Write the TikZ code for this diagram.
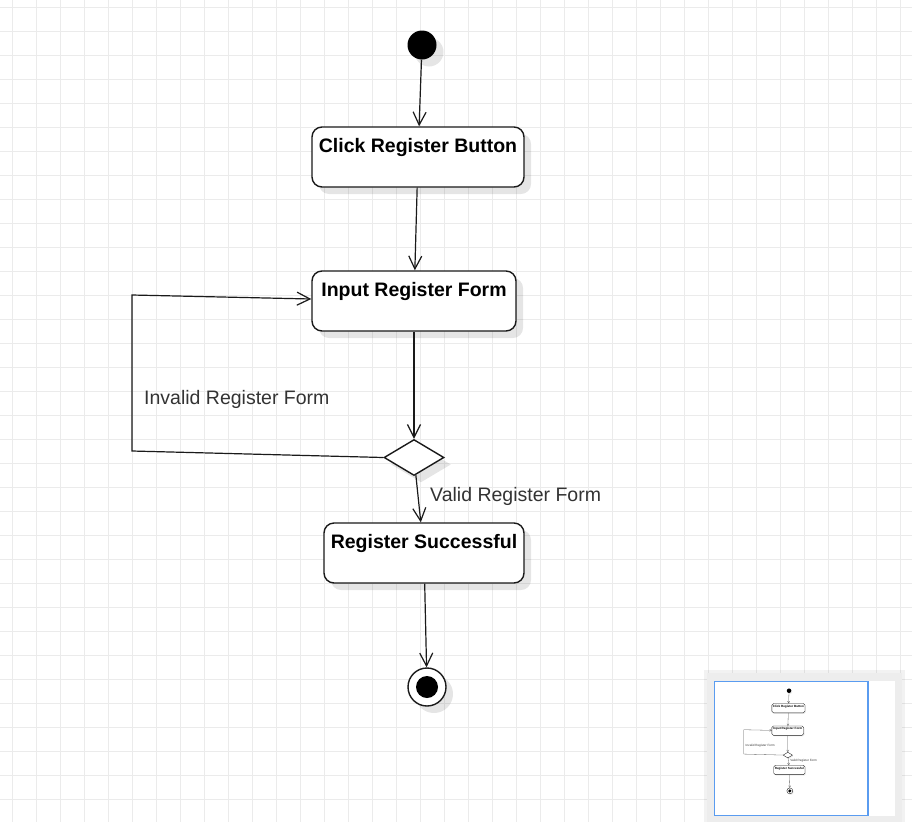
\documentclass[tikz,border=0pt]{standalone}
\usepackage{fontspec}
\setmainfont{Liberation Sans}
\usetikzlibrary{arrows.meta,shapes.geometric,shadows,calc}
\definecolor{gridc}{HTML}{EBEBEB}
\definecolor{linec}{HTML}{1A1A1A}
\definecolor{labelc}{HTML}{333333}
\definecolor{panelc}{HTML}{EDEDED}
\definecolor{bluec}{HTML}{5A9CF0}
\tikzset{
  shd/.style={drop shadow={shadow xshift=7pt, shadow yshift=-7pt, fill=black, opacity=0.1}},
  act/.style={shd, draw=linec, line width=1.4pt, rounded corners=10pt, fill=white,
    minimum height=60pt, text height=25pt, text depth=35pt, inner ysep=0pt, inner xsep=0pt,
    font=\bfseries\fontsize{19.5}{22}\selectfont},
  startnode/.style={shd, circle, fill=black, minimum size=29pt, inner sep=0pt},
  endnode/.style={shd, circle, draw=linec, line width=1.4pt, fill=white, minimum size=38pt, inner sep=0pt},
  endin/.style={circle, fill=black, minimum size=22pt, inner sep=0pt},
  decision/.style={shd, diamond, aspect=1.667, draw=linec, line width=1.4pt, fill=white,
    minimum width=60pt, minimum height=36pt, inner sep=0pt},
  flow/.style={draw=linec, line width=1.2pt, -{Straight Barb[length=13pt,width=13pt]}},
  guard/.style={anchor=base west, inner sep=0pt, text=labelc, font=\fontsize{19.5}{22}\selectfont},
}
\newcommand\regdiag[1]{%
  \node[startnode] (#1s) at (422,45) {};
  \node[act, minimum width=212pt] (#1a) at (418,157) {Click Register Button};
  \node[act, minimum width=204pt] (#1b) at (414,301) {Input Register Form};
  \node[decision] (#1d) at (414,457.5) {};
  \node[act, minimum width=200pt] (#1c) at (424,553) {Register Successful};
  \node[endnode] (#1e) at (427,687) {};
  \node[endin] (#1ei) at (#1e) {};
  \coordinate (#1lb) at (132,451);
  \coordinate (#1lt) at (132,295);
  \draw[flow] (#1s) -- (#1a);
  \draw[flow] (#1a) -- (#1b);
  \draw[flow] (#1b) -- (#1d);
  \draw[flow] (#1d) -- (#1c);
  \draw[flow] (#1c) -- (#1e);
  \draw[flow] (#1d.west) -- (#1lb) -- (#1lt) -- ($(#1b.west)+(0,-2)$);
  \node[guard] (#1g1) at (144,404.5) {Invalid Register Form};
  \node[guard] (#1g2) at (430,501.7) {Valid Register Form};
}
\begin{document}
\begin{tikzpicture}[x=1pt,y=-1pt]
  \useasboundingbox (0,0) rectangle (912,822);
  \fill[white] (0,0) rectangle (912,822);
  \foreach \x in {12,36,...,900} \draw[gridc, line width=1pt] (\x,0) -- (\x,822);
  \foreach \y in {7,31,...,822} \draw[gridc, line width=1pt] (0,\y) -- (912,\y);
  \regdiag{m}
  % overview panel
  \fill[black, opacity=0.05] (704,670) rectangle (905,822);
  \fill[panelc] (707,673) rectangle (902,822);
  \fill[white] (715,681) rectangle (895,816);
  \begin{scope}[shift={(723.2,683.7)}, scale=0.156, transform shape,
      shd/.style={drop shadow={shadow xshift=1pt, shadow yshift=-1pt, fill=black, opacity=0.07}},
      act/.append style={line width=0.35pt, rounded corners=1.6pt},
      endnode/.append style={line width=0.35pt},
      decision/.append style={line width=0.35pt},
      flow/.style={draw=linec!70, line width=0.3pt, -{Straight Barb[length=2pt,width=2.2pt]}}]
    \regdiag{o}
  \end{scope}
  \draw[bluec, line width=1.5pt] (714.5,681.5) rectangle (868,815.5);
\end{tikzpicture}
\end{document}
